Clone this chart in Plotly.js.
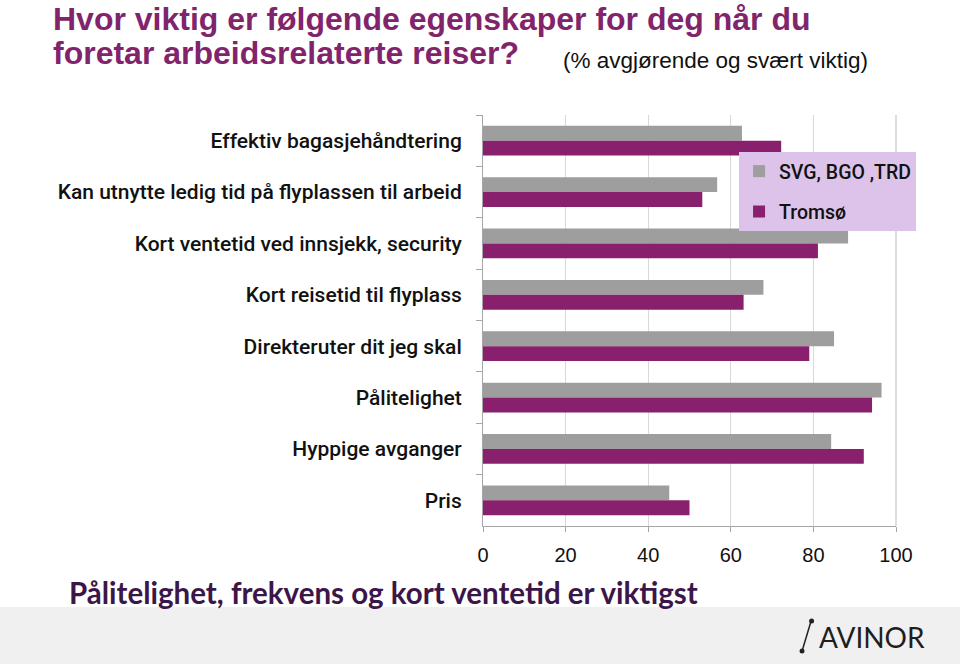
<!DOCTYPE html>
<html>
<head>
<meta charset="utf-8">
<script src="https://cdn.plot.ly/plotly-3.0.1.min.js"></script>
<style>html,body{margin:0;padding:0;background:#fff}#chart{width:960px;height:664px}</style>
</head>
<body>
<div id="chart"></div>
<script>
var categories = ["Effektiv bagasjehåndtering","Kan utnytte ledig tid på flyplassen til arbeid","Kort ventetid ved innsjekk, security","Kort reisetid til flyplass","Direkteruter dit jeg skal","Pålitelighet","Hyppige avganger","Pris"];
var svgBgoTrd = [62.7,56.7,88.4,67.9,85.0,96.5,84.3,45.1];
var tromso = [72.2,53.1,81.1,63.1,79.0,94.2,92.2,50.0];
var seriesNames = ["SVG, BGO ,TRD","Tromsø"];
var xTicks = [0,20,40,60,80,100];

var COND = "Roboto, DejaVu Sans Condensed, sans-serif";
var SANS = "Liberation Sans, Arial, Helvetica, sans-serif";
function px(x){return (x-482.6)/413.4;}
function py(y){return (526-y)/411;}

var traces = [
  {type:'bar', orientation:'h', name:seriesNames[0], y:categories, x:svgBgoTrd,
   marker:{color:'#9e9e9e'}, legendgroup:'a', hoverinfo:'x+y'},
  {type:'bar', orientation:'h', name:seriesNames[1], y:categories, x:tromso,
   marker:{color:'#88206d'}, legendgroup:'b', hoverinfo:'x+y'}
];

var layout = {
  width:960, height:664,
  margin:{l:483, r:64, t:115, b:138, pad:0},
  paper_bgcolor:'#ffffff', plot_bgcolor:'#ffffff',
  barmode:'group', bargap:0.42, bargroupgap:0,
  xaxis:{range:[0,100], tickvals:xTicks, ticktext:xTicks.map(String), showgrid:true, gridcolor:'#d9d9d9', gridwidth:1,
         zeroline:false, showline:true, linecolor:'#a6a6a6', ticks:'outside', ticklen:5, tickcolor:'#a6a6a6',
         tickfont:{family:SANS, size:20, color:'#111'}, ticklabelstandoff:6, fixedrange:true},
  yaxis:{type:'category', autorange:'reversed', showline:true, linecolor:'#a6a6a6', ticks:'outside', ticklen:6,
         tickcolor:'#a6a6a6', tickson:'boundaries', showgrid:false,
         tickfont:{family:COND, size:21, color:'#111', weight:500}, ticklabelstandoff:16, fixedrange:true},
  showlegend:true,
  legend:{x:0.62, y:0.91, xanchor:'left', yanchor:'top', bgcolor:'#ddc3ea', borderwidth:0,
          font:{family:COND, size:19.5, color:'#111', weight:500}, traceorder:'grouped', tracegroupgap:12},
  shapes:[
    {type:'line', xref:'paper', yref:'paper', x0:1, x1:1, y0:0, y1:1, line:{color:'#bdbdbd', width:1}},
    {type:'rect', xref:'paper', yref:'paper', x0:-1.2, x1:1.2, y0:py(607), y1:-0.4, fillcolor:'#f0f0f0', line:{width:0}, layer:'below'},
    {type:'line', xref:'paper', yref:'paper', x0:px(802), x1:px(811), y0:py(651), y1:py(621), line:{color:'#222', width:1.5}},
    {type:'circle', xref:'paper', yref:'paper', x0:px(799.5), x1:px(804.5), y0:py(653.5), y1:py(648.5), fillcolor:'#222', line:{width:0}},
    {type:'circle', xref:'paper', yref:'paper', x0:px(809), x1:px(814), y0:py(623.5), y1:py(618.5), fillcolor:'#222', line:{width:0}}
  ],
  annotations:[
    {text:"<b>Hvor viktig er følgende egenskaper for deg når du</b>", xref:'paper', yref:'paper', x:px(50), y:py(19), xanchor:'left', yanchor:'middle',
     showarrow:false, font:{family:SANS, size:32, color:'#82246c'}},
    {text:"<b>foretar arbeidsrelaterte reiser?</b>", xref:'paper', yref:'paper', x:px(50), y:py(53), xanchor:'left', yanchor:'middle',
     showarrow:false, font:{family:SANS, size:32, color:'#82246c'}},
    {text:"(% avgjørende og svært viktig)", xref:'paper', yref:'paper', x:px(561), y:py(60), xanchor:'left', yanchor:'middle',
     showarrow:false, font:{family:SANS, size:22.5, color:'#111'}},
    {text:"Pålitelighet, frekvens og kort ventetid er viktigst", xref:'paper', yref:'paper', x:px(66), y:py(592), xanchor:'left', yanchor:'middle',
     showarrow:false, font:{family:"Lato, Open Sans, sans-serif", size:29.5, color:'#3c1648', weight:700}},
    {text:"AVINOR", xref:'paper', yref:'paper', x:px(817), y:py(637), xanchor:'left', yanchor:'middle',
     showarrow:false, font:{family:"Lato, sans-serif", size:28, color:'#1e1e1e'}}
  ]
};

Plotly.newPlot('chart', traces, layout, {displayModeBar:false, staticPlot:true});
</script>
</body>
</html>
